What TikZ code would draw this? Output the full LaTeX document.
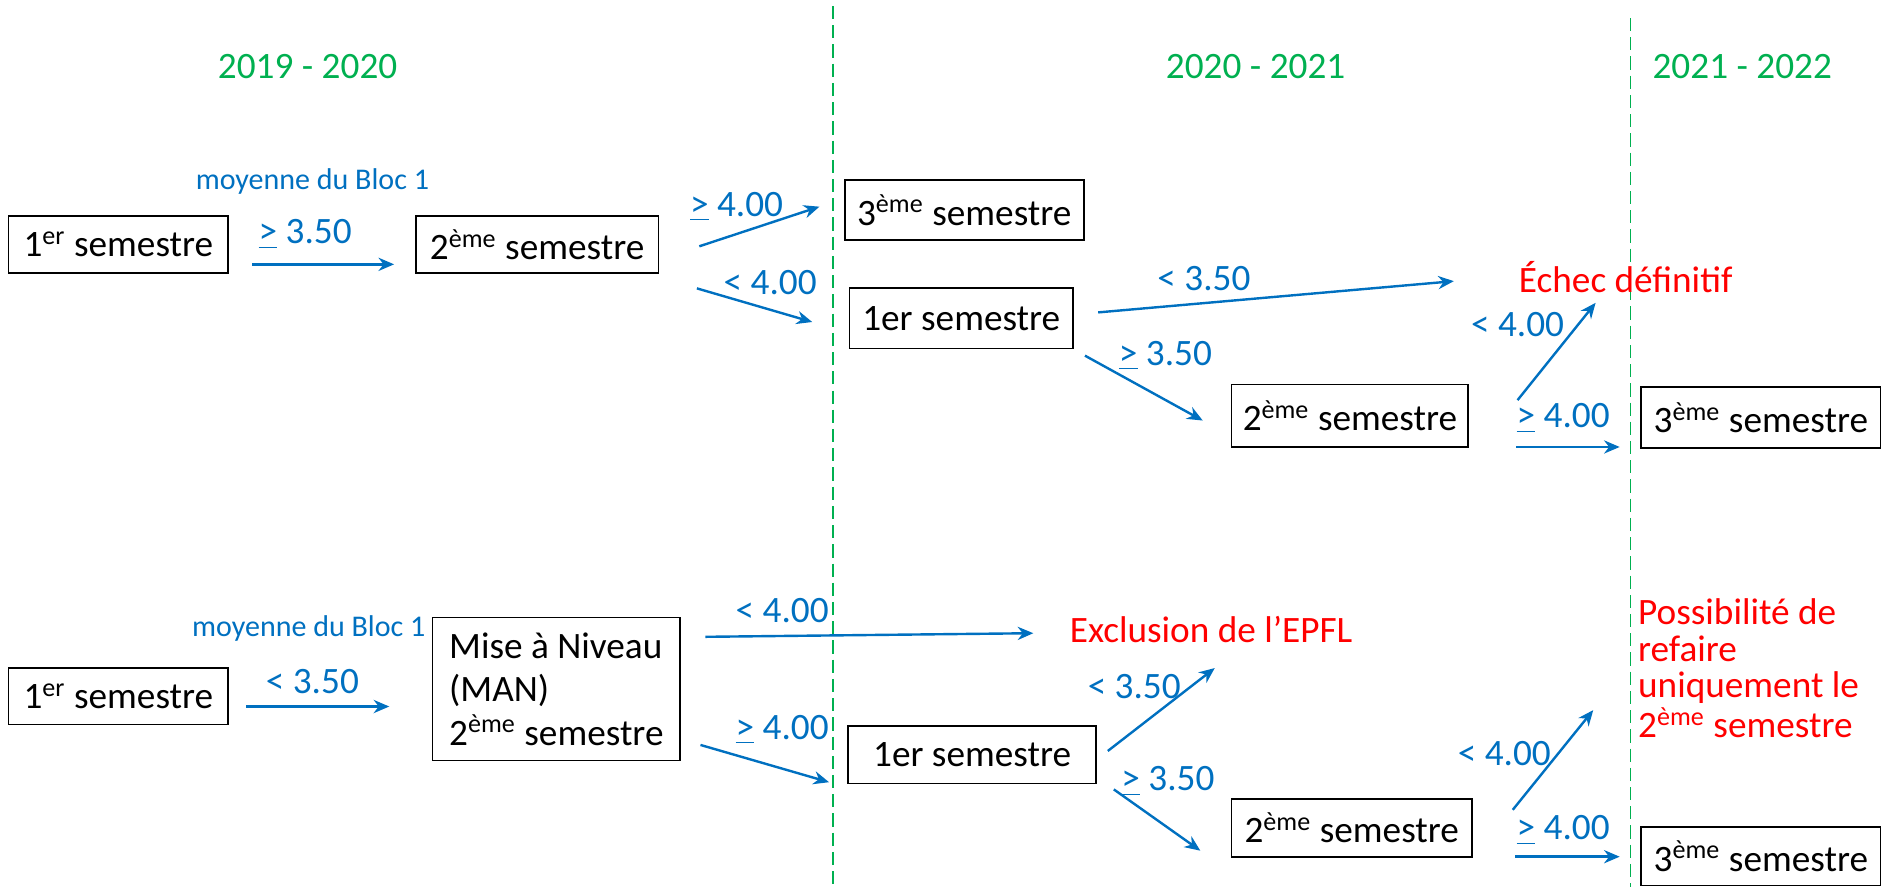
\documentclass[tikz,border=0pt]{standalone}
\usepackage{fontspec}
\setmainfont{Carlito}
\usetikzlibrary{arrows.meta}
\definecolor{cblue}{HTML}{0070C0}
\definecolor{cgreen}{HTML}{00B050}
\definecolor{cred}{HTML}{FF0000}
\begin{document}
\begin{tikzpicture}[x=0.5pt,y=-0.5pt,
  box/.style={draw=black, line width=0.75pt, inner sep=0pt, align=center, font=\fontsize{15.5}{18}\selectfont},
  lbl/.style={text=cblue, inner sep=0pt, font=\fontsize{15.5}{18}\selectfont},
  smalllbl/.style={text=cblue, inner sep=0pt, font=\fontsize{12.5}{15}\selectfont},
  year/.style={text=cgreen, inner sep=0pt, font=\fontsize{15.5}{18}\selectfont},
  fail/.style={text=cred, inner sep=0pt, font=\fontsize{15.5}{18}\selectfont},
  arr/.style={draw=cblue, line width=1pt, -{Stealth[length=6.5pt,width=5.5pt]}},
  sep/.style={draw=cgreen, line width=0.7pt, dash pattern=on 5.5pt off 2.5pt}]
\useasboundingbox (0,0) rectangle (1568,738);

% separators
\coordinate (d1t) at (693,5);
\coordinate (d1b) at (693,738);
\coordinate (d2t) at (1357,15);
\coordinate (d2b) at (1357,738);
\draw[sep] (d1t) -- (d1b);
\draw[sep] (d2t) -- (d2b);

% years
\node[year] (y1) at (256,55) {2019 - 2020};
\node[year] (y2) at (1045,55) {2020 - 2021};
\node[year] (y3) at (1450,55) {2021 - 2022};

% top row
\node[smalllbl] (m1) at (260,151) {moyenne du Bloc 1};
\node[box, minimum width=91.5pt, minimum height=23.5pt] (A1) at (98.5,203.5) {1\textsuperscript{er} semestre};
\node[box, minimum width=101pt, minimum height=23.5pt] (A2) at (447,203.5) {2\textsuperscript{ème} semestre};
\node[box, minimum width=99.5pt, minimum height=25pt] (A3) at (802.5,175) {3\textsuperscript{ème} semestre};
\node[box, minimum width=93pt, minimum height=25pt] (A4) at (800,265) {1er semestre};
\node[box, minimum width=98.5pt, minimum height=26pt] (A5) at (1123.5,346) {2\textsuperscript{ème} semestre};
\node[box, minimum width=99.5pt, minimum height=25.5pt] (A6) at (1465.5,347.5) {3\textsuperscript{ème} semestre};
\node[fail] (echec) at (1353,231) {Échec définitif};

\node[lbl] (l1) at (254,195) {\underline{>} 3.50};
\node[lbl] (l2) at (613,172) {\underline{>} 4.00};
\node[lbl] (l3) at (641,235) {< 4.00};
\node[lbl] (l4) at (1002,232) {< 3.50};
\node[lbl] (l5) at (970,296) {\underline{>} 3.50};
\node[lbl] (l6) at (1263,270) {< 4.00};
\node[lbl] (l7) at (1301,348) {\underline{>} 4.00};

\coordinate (a1s) at (210,220);  \coordinate (a1e) at (328,220);
\coordinate (a2s) at (582,205);  \coordinate (a2e) at (682,172);
\coordinate (a3s) at (580,240);  \coordinate (a3e) at (676,268);
\coordinate (a4s) at (914,260);  \coordinate (a4e) at (1210,234);
\coordinate (a5s) at (903,296);  \coordinate (a5e) at (1001,350);
\coordinate (a6s) at (1263,333); \coordinate (a6e) at (1328,252);
\coordinate (a7s) at (1262,372); \coordinate (a7e) at (1348,372);
\draw[arr] (a1s) -- (a1e);
\draw[arr] (a2s) -- (a2e);
\draw[arr] (a3s) -- (a3e);
\draw[arr] (a4s) -- (a4e);
\draw[arr] (a5s) -- (a5e);
\draw[arr] (a6s) -- (a6e);
\draw[arr] (a7s) -- (a7e);

% bottom row
\node[smalllbl] (m2) at (257,523) {moyenne du Bloc 1};
\node[box, minimum width=91.5pt, minimum height=23.5pt] (B1) at (98.5,579.5) {1\textsuperscript{er} semestre};
\node[box, minimum width=103pt, minimum height=59.5pt, align=left] (B2) at (463,573.5) {Mise à Niveau\\(MAN)\\2\textsuperscript{ème} semestre};
\node[box, minimum width=103pt, minimum height=24pt] (B3) at (809,628) {1er semestre};
\node[box, minimum width=100pt, minimum height=24pt] (B4) at (1125,689) {2\textsuperscript{ème} semestre};
\node[box, minimum width=99.5pt, minimum height=24.5pt] (B5) at (1465.5,712.5) {3\textsuperscript{ème} semestre};
\node[fail] (excl) at (1008,524) {Exclusion de l’EPFL};
\node[fail, anchor=north west, align=left, font=\fontsize{15.5}{15.2}\selectfont] (poss) at (1363,498) {Possibilité de\\refaire\\uniquement le\\[1.5pt]2\textsuperscript{ème} semestre};

\node[lbl] (k1) at (260,567) {< 3.50};
\node[lbl] (k2) at (651,508) {< 4.00};
\node[lbl] (k3) at (651,607) {\underline{>} 4.00};
\node[lbl] (k4) at (944,571) {< 3.50};
\node[lbl] (k5) at (972,650) {\underline{>} 3.50};
\node[lbl] (k6) at (1252,627) {< 4.00};
\node[lbl] (k7) at (1301,691) {\underline{>} 4.00};

\coordinate (b1s) at (205,588);  \coordinate (b1e) at (324,588);
\coordinate (b2s) at (587,530);  \coordinate (b2e) at (860,527);
\coordinate (b3s) at (583,620);  \coordinate (b3e) at (690,651);
\coordinate (b4s) at (922,625);  \coordinate (b4e) at (1011,556);
\coordinate (b5s) at (927,657);  \coordinate (b5e) at (999,708);
\coordinate (b6s) at (1259,674); \coordinate (b6e) at (1326,591);
\coordinate (b7s) at (1261,713); \coordinate (b7e) at (1348,713);
\draw[arr] (b1s) -- (b1e);
\draw[arr] (b2s) -- (b2e);
\draw[arr] (b3s) -- (b3e);
\draw[arr] (b4s) -- (b4e);
\draw[arr] (b5s) -- (b5e);
\draw[arr] (b6s) -- (b6e);
\draw[arr] (b7s) -- (b7e);
\end{tikzpicture}
\end{document}
